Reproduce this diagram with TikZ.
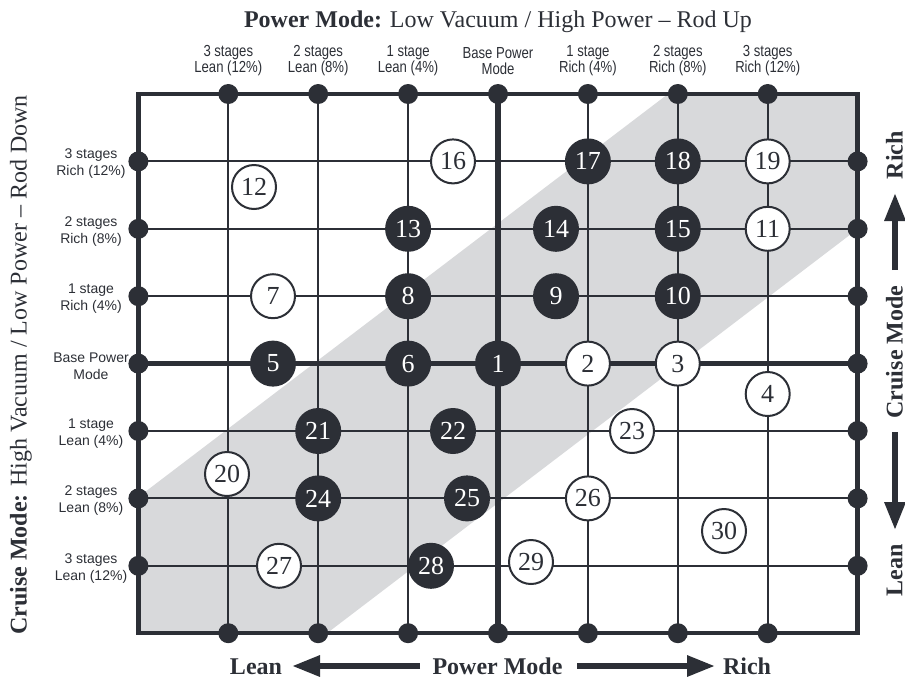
\documentclass[tikz,border=0pt]{standalone}
\usepackage{fontspec}
\setmainfont{Liberation Serif}
\newfontfamily\condsans[FakeStretch=0.82]{Liberation Sans}
\newfontfamily\plainsans{Liberation Sans}
\usetikzlibrary{arrows.meta}
\definecolor{ink}{RGB}{44,47,54}
\definecolor{bandgray}{RGB}{216,217,219}
\tikzset{
  gridthin/.style={draw=ink, line width=2pt},
  gridthick/.style={draw=ink, line width=5.5pt},
  framebox/.style={draw=ink, line width=4.5pt},
  edgedot/.style={circle, fill=ink, minimum size=20pt, inner sep=0pt},
  bcirc/.style={circle, fill=ink, text=white, minimum size=46pt, inner sep=0pt, font=\fontsize{26}{26}\selectfont},
  wcirc/.style={circle, fill=white, draw=ink, line width=2pt, text=ink, minimum size=44pt, inner sep=0pt, font=\fontsize{26}{26}\selectfont},
  collab/.style={align=center, text=ink, inner sep=0pt, font=\condsans\fontsize{16}{16}\selectfont},
  rowlab/.style={align=center, text=ink, inner sep=0pt, font=\plainsans\fontsize{14}{17}\selectfont},
  bigtext/.style={text=ink, inner sep=0pt, font=\fontsize{24}{28}\selectfont},
  boldtext/.style={text=ink, inner sep=0pt, font=\bfseries\fontsize{24}{28}\selectfont},
  bigarrow/.style={draw=ink, line width=6pt, -{Triangle[length=28pt,width=20pt]}},
}
\begin{document}
\begin{tikzpicture}[x=1pt,y=-1pt]
\useasboundingbox (0,0) rectangle (905,681);
% frame corners
\coordinate (NW) at (138.4,94);
\coordinate (NE) at (857.6,94);
\coordinate (SW) at (138.4,633.2);
\coordinate (SE) at (857.6,633.2);
% band
\fill[bandgray] (668,94) -- (NE) -- (857.6,229) -- (327,633.2) -- (SW) -- (138.4,497) -- cycle;
% edge coordinates
\foreach \i in {1,...,7}{
  \pgfmathsetmacro\xx{138.4+89.9*\i}
  \pgfmathsetmacro\yy{94+67.4*\i}
  \coordinate (t\i) at (\xx,94);
  \coordinate (b\i) at (\xx,633.2);
  \coordinate (l\i) at (138.4,\yy);
  \coordinate (r\i) at (857.6,\yy);
}
% grid lines
\foreach \i in {1,2,3,5,6,7}{
  \draw[gridthin] (t\i) -- (b\i);
  \draw[gridthin] (l\i) -- (r\i);
}
\draw[gridthick] (t4) -- (b4);
\draw[gridthick] (l4) -- (r4);
% frame
\draw[framebox] (NW) rectangle (SE);
% edge dots
\foreach \i in {1,...,7}{
  \node[edgedot] (dt\i) at (t\i) {};
  \node[edgedot] (db\i) at (b\i) {};
  \node[edgedot] (dl\i) at (l\i) {};
  \node[edgedot] (dr\i) at (r\i) {};
}
% numbered circles
\node[bcirc] (c1) at (498,363.6) {1};
\node[wcirc] (c2) at (587.9,363.6) {2};
\node[wcirc] (c3) at (677.8,363.6) {3};
\node[wcirc] (c4) at (767.7,394) {4};
\node[bcirc] (c5) at (273,363.6) {5};
\node[bcirc] (c6) at (408.1,363.6) {6};
\node[wcirc] (c7) at (273,296.2) {7};
\node[bcirc] (c8) at (408.1,296.2) {8};
\node[bcirc] (c9) at (556,296.2) {9};
\node[bcirc] (c10) at (677.8,296.2) {10};
\node[wcirc] (c11) at (767.7,228.8) {11};
\node[wcirc] (c12) at (254,187) {12};
\node[bcirc] (c13) at (408.1,228.8) {13};
\node[bcirc] (c14) at (556,228.8) {14};
\node[bcirc] (c15) at (677.8,228.8) {15};
\node[wcirc] (c16) at (453,161.4) {16};
\node[bcirc] (c17) at (587.9,161.4) {17};
\node[bcirc] (c18) at (677.8,161.4) {18};
\node[wcirc] (c19) at (767.7,161.4) {19};
\node[wcirc] (c20) at (227,474) {20};
\node[bcirc] (c21) at (318.2,431) {21};
\node[bcirc] (c22) at (453,431) {22};
\node[wcirc] (c23) at (632,431) {23};
\node[bcirc] (c24) at (318.2,498.4) {24};
\node[bcirc] (c25) at (467,498.4) {25};
\node[wcirc] (c26) at (587.9,498.4) {26};
\node[wcirc] (c27) at (279,565.8) {27};
\node[bcirc] (c28) at (431,565.8) {28};
\node[wcirc] (c29) at (531,562) {29};
\node[wcirc] (c30) at (724,531) {30};
% column labels
\node[collab] (k1) at (228.3,61) {3 stages\\Lean (12\%)};
\node[collab] (k2) at (318.2,61) {2 stages\\Lean (8\%)};
\node[collab] (k3) at (408.1,61) {1 stage\\Lean (4\%)};
\node[collab] (k4) at (498,61) {Base Power\\Mode};
\node[collab] (k5) at (587.9,61) {1 stage\\Rich (4\%)};
\node[collab] (k6) at (677.8,61) {2 stages\\Rich (8\%)};
\node[collab] (k7) at (767.7,61) {3 stages\\Rich (12\%)};
% row labels
\node[rowlab] (q1) at (91,164) {3 stages\\Rich (12\%)};
\node[rowlab] (q2) at (91,231.4) {2 stages\\Rich (8\%)};
\node[rowlab] (q3) at (91,298.8) {1 stage\\Rich (4\%)};
\node[rowlab] (q4) at (91,366.2) {Base Power\\Mode};
\node[rowlab] (q5) at (91,433.6) {1 stage\\Lean (4\%)};
\node[rowlab] (q6) at (91,501) {2 stages\\Lean (8\%)};
\node[rowlab] (q7) at (91,568.4) {3 stages\\Lean (12\%)};
% titles
\node[bigtext, anchor=base] (title) at (498,27) {\textbf{Power Mode:} Low Vacuum / High Power -- Rod Up};
\node[bigtext, rotate=90] (lefttitle) at (21,365) {\textbf{Cruise Mode:} High Vacuum / Low Power -- Rod Down};
% bottom axis
\node[boldtext, anchor=base] (blean) at (256,674) {Lean};
\node[boldtext, anchor=base] (bpow) at (497.5,674) {Power Mode};
\node[boldtext, anchor=base] (brich) at (747,674) {Rich};
\coordinate (ba1) at (420,666);
\coordinate (ba2) at (292,666);
\coordinate (ba3) at (577,666);
\coordinate (ba4) at (715,666);
\draw[bigarrow] (ba1) -- (ba2);
\draw[bigarrow] (ba3) -- (ba4);
% right axis
\node[boldtext, rotate=90] (rrich) at (894.5,155) {Rich};
\node[boldtext, rotate=90] (rcru) at (894.5,352) {Cruise Mode};
\node[boldtext, rotate=90] (rlean) at (894.5,570) {Lean};
\coordinate (ra1) at (895,270);
\coordinate (ra2) at (895,193);
\coordinate (ra3) at (895,432);
\coordinate (ra4) at (895,530);
\draw[bigarrow] (ra1) -- (ra2);
\draw[bigarrow] (ra3) -- (ra4);
\end{tikzpicture}
\end{document}
